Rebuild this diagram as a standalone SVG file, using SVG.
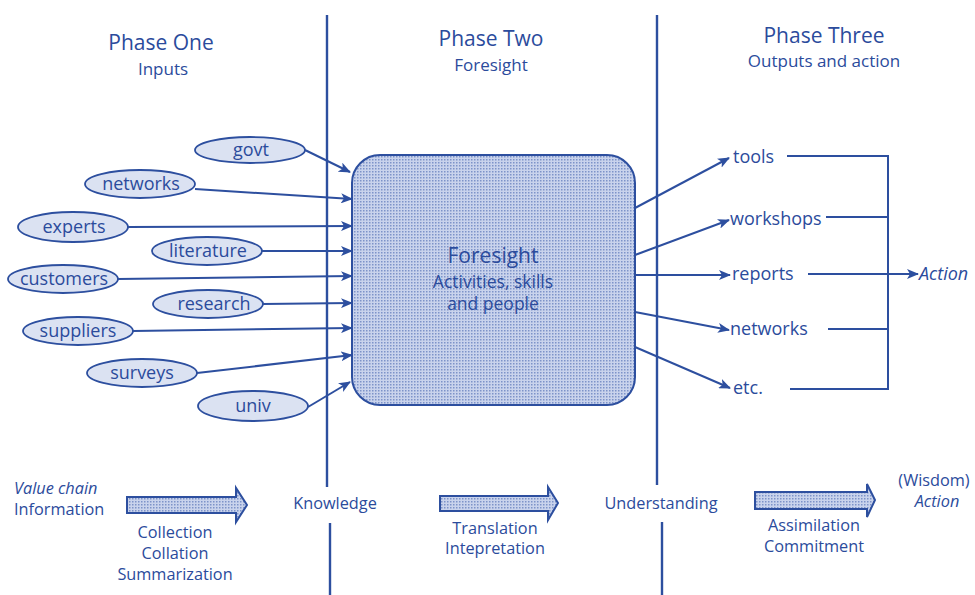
<svg xmlns="http://www.w3.org/2000/svg" width="975" height="595" viewBox="0 0 975 595">
<style>
text{font-family:"Open Sans","Noto Sans","Liberation Sans",sans-serif;fill:#2b4b9c}
.h{font-size:21px}
.sh{font-size:17px}
.s{font-size:16.3px}
.l{font-size:18px}
.i{font-style:italic}
.m{text-anchor:middle}
.ell{fill:#dbe2f2;stroke:#2d4f9f;stroke-width:1.8}
.ln{stroke:#2d4f9f;stroke-width:2;fill:none}
.div{stroke:#2d4f9f;stroke-width:2.4}
.blk{fill:url(#dots);stroke:#2d4f9f;stroke-width:2}
</style>
<defs>
<pattern id="dots" width="3" height="3" patternUnits="userSpaceOnUse">
<rect width="3" height="3" fill="#c9d3ec"/>
<rect width="1.5" height="1.5" fill="#7d93c9"/>
</pattern>
<marker id="ah" markerWidth="12" markerHeight="10" refX="11" refY="5" orient="auto" markerUnits="userSpaceOnUse">
<path d="M0,0 L12,5 L0,10 L3,5 Z" fill="#2d4f9f"/>
</marker>
</defs>
<rect width="975" height="595" fill="#ffffff"/>

<g id="dividers">
<line class="div" x1="327" y1="15" x2="327" y2="487"/>
<line class="div" x1="330" y1="523" x2="330" y2="595"/>
<line class="div" x1="657" y1="15" x2="657" y2="485"/>
<line class="div" x1="662" y1="522" x2="662" y2="595"/>
</g>

<g id="headers">
<text class="h m" x="161" y="50">Phase One</text>
<text class="sh m" x="163" y="75">Inputs</text>
<text class="h m" x="491" y="46">Phase Two</text>
<text class="sh m" x="491" y="71">Foresight</text>
<text class="h m" x="824" y="43">Phase Three</text>
<text class="sh m" x="824" y="67">Outputs and action</text>
</g>

<g id="govt"><ellipse class="ell" cx="250" cy="150" rx="55" ry="13"/><text class="l m" x="251" y="156">govt</text></g>
<g id="networks-in"><ellipse class="ell" cx="140" cy="184" rx="55" ry="14"/><text class="l m" x="141" y="190">networks</text></g>
<g id="experts"><ellipse class="ell" cx="73" cy="227" rx="55" ry="15"/><text class="l m" x="74" y="233">experts</text></g>
<g id="literature"><ellipse class="ell" cx="207" cy="251" rx="55" ry="14"/><text class="l m" x="208" y="257">literature</text></g>
<g id="customers"><ellipse class="ell" cx="63" cy="279" rx="55" ry="14"/><text class="l m" x="64" y="285">customers</text></g>
<g id="research"><ellipse class="ell" cx="208" cy="304" rx="55" ry="14"/><text class="l m" x="214" y="310">research</text></g>
<g id="suppliers"><ellipse class="ell" cx="78" cy="331" rx="55" ry="14"/><text class="l m" x="78" y="337">suppliers</text></g>
<g id="surveys"><ellipse class="ell" cx="142" cy="373" rx="55" ry="14"/><text class="l m" x="142" y="379">surveys</text></g>
<g id="univ"><ellipse class="ell" cx="253" cy="406" rx="55" ry="15"/><text class="l m" x="253" y="412">univ</text></g>

<g id="foresight">
<rect x="352" y="155" width="283" height="250" rx="28" ry="28" class="blk"/>
<text class="m" x="493" y="263" style="font-size:21px">Foresight</text>
<text class="m" x="493" y="288" style="font-size:17.5px">Activities, skills</text>
<text class="m" x="493" y="310" style="font-size:17.5px">and people</text>
</g>

<g id="outputs">
<text class="l" x="733" y="163">tools</text>
<text class="l" x="730" y="225">workshops</text>
<text class="l" x="732" y="280">reports</text>
<text class="l" x="730" y="335">networks</text>
<text class="l" x="733" y="394">etc.</text>
<text class="l i" x="919" y="280">Action</text>
</g>

<g id="connectors">
<line class="ln" x1="305" y1="150" x2="350" y2="172" marker-end="url(#ah)"/>
<line class="ln" x1="195" y1="189" x2="352" y2="199" marker-end="url(#ah)"/>
<line class="ln" x1="128" y1="227" x2="352" y2="226" marker-end="url(#ah)"/>
<line class="ln" x1="262" y1="251" x2="352" y2="251" marker-end="url(#ah)"/>
<line class="ln" x1="118" y1="279" x2="352" y2="276" marker-end="url(#ah)"/>
<line class="ln" x1="263" y1="304" x2="352" y2="303" marker-end="url(#ah)"/>
<line class="ln" x1="133" y1="331" x2="352" y2="328" marker-end="url(#ah)"/>
<line class="ln" x1="197" y1="373" x2="352" y2="355" marker-end="url(#ah)"/>
<line class="ln" x1="308" y1="407" x2="350" y2="382" marker-end="url(#ah)"/>

<line class="ln" x1="635" y1="208" x2="729" y2="158" marker-end="url(#ah)"/>
<line class="ln" x1="635" y1="255" x2="729" y2="220" marker-end="url(#ah)"/>
<line class="ln" x1="635" y1="275" x2="730" y2="275" marker-end="url(#ah)"/>
<line class="ln" x1="635" y1="312" x2="729" y2="330" marker-end="url(#ah)"/>
<line class="ln" x1="635" y1="347" x2="730" y2="388" marker-end="url(#ah)"/>

<polyline class="ln" points="787,156 888,156 888,389 790,389"/>
<line class="ln" x1="826" y1="217" x2="888" y2="217"/>
<line class="ln" x1="828" y1="329" x2="888" y2="329"/>
<line class="ln" x1="808" y1="274" x2="918" y2="274" marker-end="url(#ah)"/>
</g>

<g id="bottom">
<text class="s i" x="14" y="494">Value chain</text>
<text class="s" x="14" y="515">Information</text>
<path class="blk" d="M127,497 H236 V488 L247,505 L236,522 V513 H127 Z"/>
<text class="s m" x="175" y="538">Collection</text>
<text class="s m" x="175" y="559">Collation</text>
<text class="s m" x="175" y="580">Summarization</text>
<text class="s m" x="335" y="509">Knowledge</text>
<path class="blk" d="M440,496 H548 V487 L558,503 L548,520 V511 H440 Z"/>
<text class="s m" x="495" y="534">Translation</text>
<text class="s m" x="495" y="554">Intepretation</text>
<text class="s m" x="661" y="509">Understanding</text>
<path class="blk" d="M755,492 H867 V484 L875,500 L867,517 V509 H755 Z"/>
<text class="s m" x="814" y="531">Assimilation</text>
<text class="s m" x="814" y="552">Commitment</text>
<text class="s m" x="934" y="486">(Wisdom)</text>
<text class="s m i" x="937" y="507">Action</text>
</g>
</svg>
